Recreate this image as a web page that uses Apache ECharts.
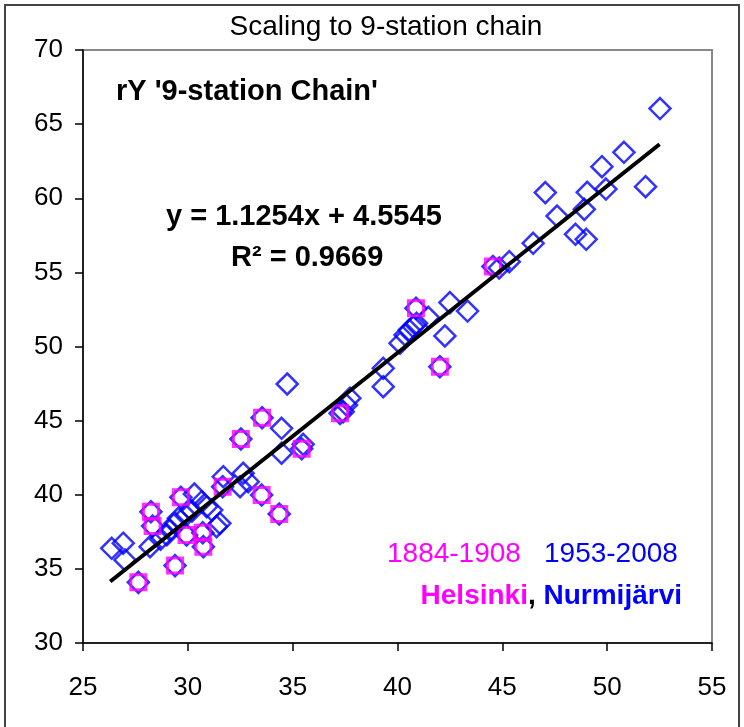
<!DOCTYPE html>
<html>
<head>
<meta charset="utf-8">
<script src="https://cdn.jsdelivr.net/npm/echarts@6/dist/echarts.min.js"></script>
<style>
  html, body { margin: 0; padding: 0; background: #fff; }
  #chart { width: 744px; height: 727px; }
</style>
</head>
<body>
<div id="chart"></div>
<script>
// Nurmijärvi 1953-2008 (blue diamonds)
var nurmiPoints = [
  [52.52, 66.05], [50.80, 63.10], [49.75, 62.13], [51.83, 60.78], [49.94, 60.62],
  [49.05, 60.40], [47.05, 60.38], [48.91, 59.25], [47.61, 58.80], [48.49, 57.57],
  [49.00, 57.23], [46.47, 56.96], [45.33, 55.72], [44.85, 55.30],
  [42.50, 52.96], [43.34, 52.39], [41.47, 51.97], [40.91, 51.56], [40.75, 51.33],
  [40.56, 51.11], [40.36, 50.78], [40.12, 50.22], [42.26, 50.71], [39.32, 48.53],
  [39.32, 47.29], [37.73, 46.51], [37.57, 46.05], [37.41, 45.60], [34.74, 47.47],
  [34.47, 44.48], [34.47, 42.80], [35.50, 43.40],
  [32.64, 41.45], [32.88, 40.88], [32.49, 40.54], [31.69, 41.22], [30.31, 40.05],
  [30.66, 39.53], [30.90, 39.20], [31.14, 38.97], [31.53, 38.07], [31.37, 37.85],
  [29.55, 38.41], [29.39, 38.07], [29.15, 37.62], [28.20, 36.50], [26.92, 36.73],
  [26.37, 36.39], [27.00, 35.60], [29.00, 37.30], [28.70, 37.00], [29.90, 38.60],
  [30.20, 38.90]
];

// Helsinki 1884-1908 (magenta squares over blue diamonds)
var helsinkiPoints = [
  [44.55, 55.40], [40.88, 52.58], [42.02, 48.64], [37.26, 45.49], [35.43, 43.10],
  [33.54, 45.20], [32.53, 43.76], [31.66, 40.54], [33.52, 39.98], [34.36, 38.70],
  [29.67, 39.83], [28.24, 38.86], [28.32, 37.89], [29.94, 37.28], [30.71, 37.44],
  [30.74, 36.50], [29.39, 35.22], [27.64, 34.09]
];

// linear trend line end points (y = 1.1254x + 4.5545)
var trendPoints = [[26.3, 34.15], [52.5, 63.64]];

var xTicks = { min: 25, max: 55, step: 5 };
var yTicks = { min: 30, max: 70, step: 5 };

var chart = echarts.init(document.getElementById('chart'));
var font = '"Liberation Sans", Arial, sans-serif';

var option = {
  animation: false,
  backgroundColor: '#fff',
  grid: {
    left: 83, top: 50, right: 32, bottom: 84,
    outerBoundsMode: 'none',
    show: true, borderColor: '#888', borderWidth: 2, backgroundColor: '#fff'
  },
  xAxis: {
    type: 'value',
    min: xTicks.min, max: xTicks.max, interval: xTicks.step,
    splitLine: { show: false },
    axisLine: { onZero: false, lineStyle: { color: '#000', width: 1.5 } },
    axisTick: { length: 8, lineStyle: { color: '#000', width: 1.5 } },
    axisLabel: { margin: 32, color: '#000', fontSize: 26, fontFamily: font }
  },
  yAxis: {
    type: 'value',
    min: yTicks.min, max: yTicks.max, interval: yTicks.step,
    splitLine: { show: false },
    axisLine: { onZero: false, lineStyle: { color: '#000', width: 1.5 } },
    axisTick: { length: 8, lineStyle: { color: '#000', width: 1.5 } },
    axisLabel: { margin: 20, color: '#000', fontSize: 26, fontFamily: font }
  },
  series: [
    {
      name: '1953-2008', type: 'scatter', data: nurmiPoints,
      symbol: 'diamond', symbolSize: 21,
      itemStyle: { color: 'rgba(0,0,0,0)', borderColor: '#0000ff', borderWidth: 2.5 }
    },
    {
      name: 'Helsinki under', type: 'scatter', data: helsinkiPoints,
      symbol: 'diamond', symbolSize: 21,
      itemStyle: { color: 'rgba(0,0,0,0)', borderColor: '#0000ff', borderWidth: 2.5 }
    },
    {
      name: '1884-1908', type: 'scatter', data: helsinkiPoints,
      symbol: 'rect', symbolSize: 15,
      itemStyle: { color: 'rgba(0,0,0,0)', borderColor: '#ff00ff', borderWidth: 3 }
    },
    {
      name: 'trend', type: 'line', data: trendPoints,
      symbol: 'none', lineStyle: { color: '#000', width: 4 }, z: 5
    }
  ],
  graphic: [
    {
      type: 'rect', shape: { x: 5, y: 5, width: 734, height: 740 },
      style: { fill: 'none', stroke: '#444', lineWidth: 2 }, silent: true, z: 100
    },
    {
      type: 'text', x: 386, y: 27,
      style: { text: 'Scaling to 9-station chain', font: '28px ' + font, fill: '#000',
        textAlign: 'center', textVerticalAlign: 'middle' }, z: 100
    },
    {
      type: 'text', x: 116, y: 92,
      style: { text: "rY '9-station Chain'", font: 'bold 29px ' + font, fill: '#000',
        textVerticalAlign: 'middle' }, z: 100
    },
    {
      type: 'text', x: 166, y: 217,
      style: { text: 'y = 1.1254x + 4.5545', font: 'bold 29px ' + font, fill: '#000',
        textVerticalAlign: 'middle' }, z: 100
    },
    {
      type: 'text', x: 231, y: 258,
      style: { text: 'R\u00b2 = 0.9669', font: 'bold 29px ' + font, fill: '#000',
        textVerticalAlign: 'middle' }, z: 100
    },
    {
      type: 'text', x: 387, y: 554,
      style: { text: '1884-1908', font: '28px ' + font, fill: '#ff00ff',
        textVerticalAlign: 'middle' }, z: 100
    },
    {
      type: 'text', x: 544, y: 554,
      style: { text: '1953-2008', font: '28px ' + font, fill: '#0000ff',
        textVerticalAlign: 'middle' }, z: 100
    },
    {
      type: 'text', x: 682, y: 596,
      style: {
        text: '{h|Helsinki}{k|, }{n|Nurmijärvi}',
        textAlign: 'right', textVerticalAlign: 'middle',
        rich: {
          h: { font: 'bold 28px ' + font, fill: '#ff00ff' },
          k: { font: 'bold 28px ' + font, fill: '#000' },
          n: { font: 'bold 28px ' + font, fill: '#0000ff' }
        }
      }, z: 100
    }
  ]
};

chart.setOption(option);
</script>
</body>
</html>
